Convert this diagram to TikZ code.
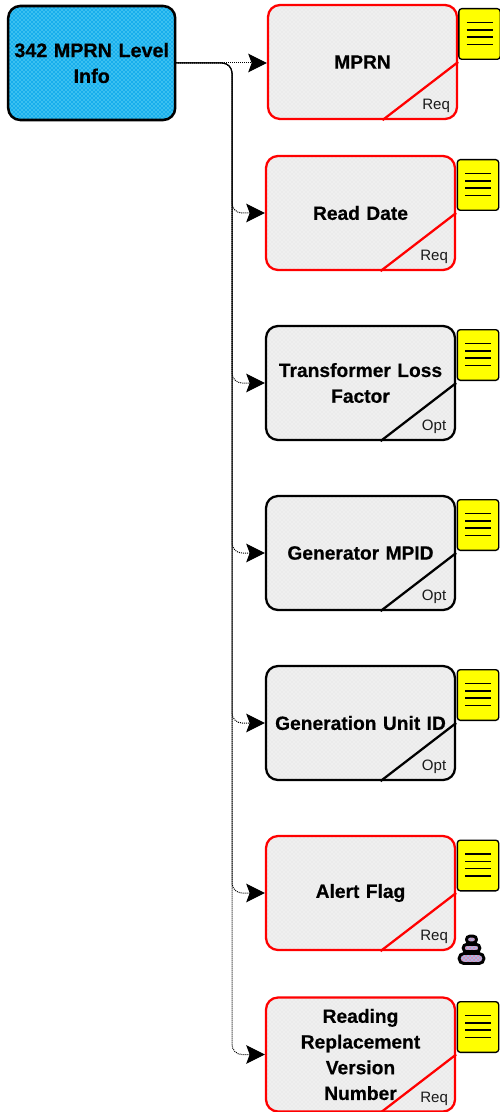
\documentclass[tikz,border=0pt]{standalone}
\usepackage{fontspec}
\setmainfont{Liberation Sans}
\newfontfamily\headfont[BoldFont={* Bold},BoldFeatures={FakeBold=0.5}]{Liberation Sans}
\usetikzlibrary{arrows.meta,calc,patterns}
\definecolor{rootblue}{HTML}{18AEEC}
\definecolor{boxgray}{HTML}{EBEBEB}
\definecolor{notey}{HTML}{FFFF00}
\definecolor{stackfill}{HTML}{D98CB4}
\definecolor{stackdots}{HTML}{9FC4F0}
\tikzset{
  x=0.75pt,y=-0.75pt,
  rootbox/.style={draw=black,line width=1.9pt,rounded corners=9pt,
    preaction={fill=rootblue},
    preaction={pattern=crosshatch dots,pattern color=cyan!30!white},
    minimum width=125.25pt,minimum height=85.5pt,align=center,inner sep=0pt,
    text width=122pt,font=\headfont\bfseries\fontsize{14.8pt}{19.3pt}\selectfont},
  attrbox/.style={line width=1.7pt,rounded corners=9pt,
    preaction={fill=boxgray},
    preaction={pattern=crosshatch dots,pattern color=white},
    minimum width=141.75pt,minimum height=85.5pt,align=center,inner sep=0pt,
    text width=135pt,font=\headfont\bfseries\fontsize{14.4pt}{19.3pt}\selectfont},
  reqbox/.style={attrbox,draw=red},
  optbox/.style={attrbox,draw=black},
  corner/.style={line width=1.7pt,line cap=butt},
  tag/.style={font=\fontsize{11.3pt}{12pt}\selectfont,inner sep=0pt,text=black!90},
  notebox/.style={draw=black,line width=1pt,rounded corners=2.2pt,fill=notey,
    minimum width=31pt,minimum height=38pt,inner sep=0pt},
  noteline/.style={draw=black,line width=0.8pt},
  conn/.style={draw=black,line width=0.75pt,dash pattern=on 0.75pt off 0.75pt,
    rounded corners=7.5pt,-{Stealth[length=14pt,width=14pt,inset=2.6pt]}},
  stackpart/.style={draw=black,line width=2.2pt,inner sep=0pt,
    preaction={fill=stackfill},
    preaction={pattern=crosshatch,pattern color=stackdots}},
}
\newcommand{\notelines}[1]{%
  \foreach \dy in {-11.5,-4,3,10.5}
    \draw[noteline] ($(#1.center)+(-13,\dy)$) -- ($(#1.center)+(13,\dy)$);}
\begin{document}
\begin{tikzpicture}
\useasboundingbox (0,0) rectangle (499,1112);
\node[rootbox] (root) at (91.7,63) {342 MPRN Level\\Info};
\node[reqbox] (b1) at (362.5,62) {MPRN};
\node[reqbox] (b2) at (360.5,213) {Read Date};
\node[optbox] (b3) at (360.5,383) {Transformer Loss\\Factor};
\node[optbox] (b4) at (360.5,553) {Generator MPID};
\node[optbox] (b5) at (360.5,723) {Generation Unit ID};
\node[reqbox] (b6) at (360.5,893) {Alert Flag};
\node[reqbox] (b7) at (360.5,1054.5) {Reading\\Replacement\\Version\\Number};
\foreach \n/\c/\t in {b1/red/Req,b2/red/Req,b3/black/Opt,b4/black/Opt,b5/black/Opt,b6/red/Req,b7/red/Req}{
  \draw[corner,draw=\c] ($(\n.south)+(20,0)$) -- (\n.east);
  \node[tag] at ($(\n.south east)+(-22,-14)$) {\t};
}
\node[notebox] (n1) at (479.5,34) {};
\node[notebox] (n2) at (478,185) {};
\node[notebox] (n3) at (478,355) {};
\node[notebox] (n4) at (478,525) {};
\node[notebox] (n5) at (478,695) {};
\node[notebox] (n6) at (478,865.5) {};
\node[notebox] (n7) at (478,1027) {};
\foreach \n in {n1,n2,n3,n4,n5,n6,n7}{\notelines{\n}}
\coordinate (trunk) at (232,63);
\draw[conn] (root.east) -- (b1.west|-root.east);
\foreach \n/\ph in {b2/0,b3/0.75,b4/0.3,b5/1.05,b6/0.5,b7/0.2}{
  \draw[conn,dash phase=\ph pt] (root.east) -- (trunk) |- (\n.west);
}
\node[stackpart,rounded corners=3.5pt,minimum width=18.5pt,minimum height=7.5pt] (s3) at (471.5,958.5) {};
\node[stackpart,rounded corners=2.7pt,minimum width=12.5pt,minimum height=5.5pt] (s2) at (471.5,948) {};
\node[stackpart,rounded corners=2.4pt,minimum width=7.5pt,minimum height=5pt] (s1) at (471.5,939.5) {};
\end{tikzpicture}
\end{document}
